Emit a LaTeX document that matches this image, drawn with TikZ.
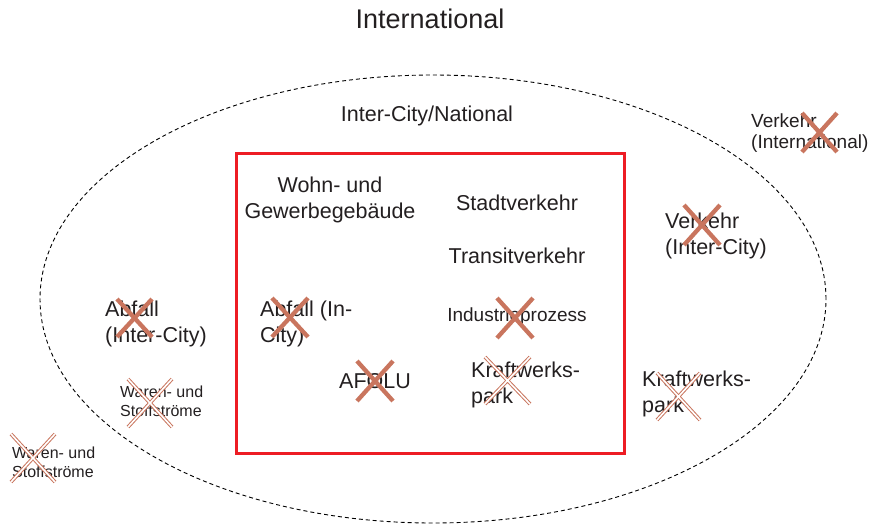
\documentclass[tikz,border=0pt]{standalone}
\usepackage{fontspec}
\setmainfont{Liberation Sans}
\definecolor{crossred}{RGB}{201,117,94}
\definecolor{boxred}{RGB}{237,28,36}
\definecolor{inkgrey}{RGB}{35,31,32}
\tikzset{
  lbl/.style={text=inkgrey, inner sep=0pt, font=\fontsize{21.5}{26}\selectfont},
  lblsmall/.style={text=inkgrey, inner sep=0pt, font=\fontsize{16}{19}\selectfont},
  xsolid/.style={draw=crossred, line width=4.3pt},
  xhollow/.style={draw=crossred, line width=1pt, double=white, double distance=1.6pt},
}
\begin{document}
\begin{tikzpicture}[x=1pt,y=1pt]
\useasboundingbox (0,0) rectangle (870,-523);
% rings
\draw[line width=0.9pt, dash pattern=on 4pt off 3pt] (433,-299) ellipse (393pt and 224pt);
\draw[boxred, line width=3pt] (236,-153) rectangle (624,-453);
% headings
\node[lbl, font=\fontsize{27}{32}\selectfont] (intl) at (430,-19) {International};
\node[lbl] (natl) at (427,-116) {Inter-City/National};
% inside the city
\node[lbl, align=center] (wohn) at (330,-200) {Wohn- und\\Gewerbegebäude};
\node[lbl] (stadt) at (517,-203) {Stadtverkehr};
\node[lbl] (transit) at (517,-256) {Transitverkehr};
\node[lbl, font=\fontsize{19}{23}\selectfont] (indu) at (517,-317) {Industrieprozess};
\node[lbl, anchor=west, align=left] (abfin) at (260,-324) {Abfall (In-\\City)};
\node[lbl] (afolu) at (375,-381) {AFOLU};
\node[lbl, anchor=west, align=left] (kwin) at (471,-385) {Kraftwerks-\\park};
% inter-city ring
\node[lbl, anchor=west, align=left] (abfic) at (105,-324) {Abfall\\(Inter-City)};
\node[lblsmall, anchor=west, align=left] (warenic) at (120,-401) {Waren- und\\Stoffströme};
\node[lbl, anchor=west, align=left] (verkic) at (665,-236) {Verkehr\\(Inter-City)};
\node[lbl, anchor=west, align=left] (kwic) at (642,-394) {Kraftwerks-\\park};
% international
\node[lblsmall, anchor=west, align=left] (warenint) at (12,-462) {Waren- und\\Stoffströme};
\node[lbl, font=\fontsize{19}{21}\selectfont, anchor=west, align=left] (verkint) at (751,-133) {Verkehr\\(International)};
% crossed out
\draw[xsolid] (802,-113) -- (837,-152) (802,-152) -- (837,-113);
\draw[xsolid] (684,-205) -- (720,-245) (684,-245) -- (720,-205);
\draw[xsolid] (117,-299) -- (152,-337) (117,-337) -- (152,-299);
\draw[xsolid] (272,-298) -- (308,-337) (272,-337) -- (308,-298);
\draw[xsolid] (357,-361) -- (393,-401) (357,-401) -- (393,-361);
\draw[xsolid] (497,-298) -- (533,-338) (497,-338) -- (533,-298);
\draw[xhollow] (657,-373) -- (700,-420) (657,-420) -- (700,-373);
\draw[xhollow] (128,-379) -- (172,-427) (128,-427) -- (172,-379);
\draw[xhollow] (11,-434) -- (55,-482) (11,-482) -- (55,-434);
\draw[xhollow] (485,-357) -- (530,-404) (485,-404) -- (530,-357);
\end{tikzpicture}
\end{document}
